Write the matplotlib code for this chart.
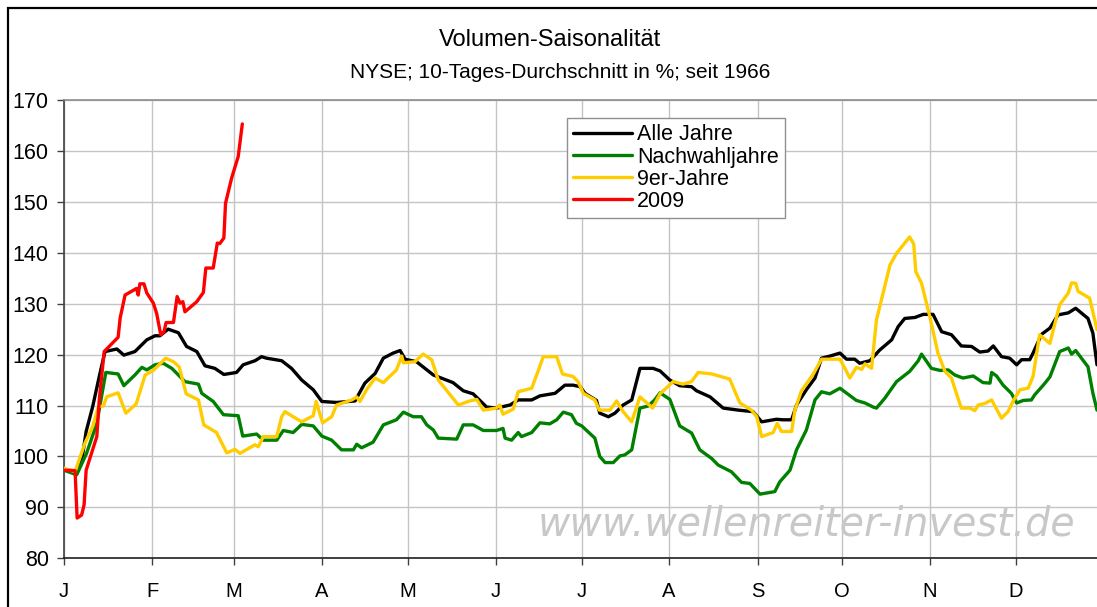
import matplotlib
matplotlib.use("Agg")
import matplotlib.pyplot as plt
from matplotlib.patches import Rectangle

plt.rcParams['font.family'] = ['Liberation Sans', 'DejaVu Sans']

# ---------------- data (x = trading day of the year) ----------------
month_labels = ["J", "F", "M", "A", "M", "J", "J", "A", "S", "O", "N", "D"]
month_pos = [0, 21.5, 41.5, 62.9, 83.9, 105.4, 126.3, 147.5, 169.3, 189.8, 211.2, 232.2]

alle_x = [0, 2.9, 4.3, 5.4, 7.0, 8.6, 10.0, 12.9, 14.6, 17.3, 20.2, 22.2, 23.4, 25.4, 27.9,
          29.9, 32.4, 34.4, 36.8, 39.0, 42.1, 43.7, 46.6, 48.2, 49.4, 53.1, 55.5, 58.0, 60.8,
          62.9, 66.5, 71.0, 73.4, 75.9, 77.9, 80.3, 82.0, 83.2, 86.0, 90.1, 94.9, 97.4, 99.8,
          103.1, 105.5, 108.8, 110.8, 114.1, 116.1, 119.8, 122.2, 124.2, 125.9, 127.1, 129.9,
          130.7, 132.8, 134.4, 136.4, 138.5, 140.5, 143.7, 145.4, 147.8, 150.2, 153.1, 154.3,
          157.6, 160.8, 164.5, 168.1, 170.2, 173.8, 175.4, 177.5, 178.7, 181.1, 183.2, 184.8,
          186.8, 189.3, 190.9, 192.9, 194.1, 196.6, 199.0, 201.9, 203.5, 205.1, 207.6, 209.6,
          212.0, 214.1, 216.5, 218.9, 221.4, 223.4, 225.4, 226.7, 228.7, 230.7, 232.4, 233.6,
          235.6, 236.4, 238.5, 240.5, 242.5, 245.0, 246.8, 249.8, 251.0, 252.0]
alle_y = [97.3, 97.2, 99.0, 104.9, 109.8, 115.7, 120.6, 121.1, 119.9, 120.6, 122.9, 123.7, 123.7,
          125.0, 124.3, 121.6, 120.6, 117.8, 117.3, 116.1, 116.5, 118.0, 118.8, 119.6, 119.3,
          118.8, 117.3, 115.0, 113.1, 110.8, 110.6, 110.9, 114.4, 116.3, 119.3, 120.3, 120.8,
          119.1, 118.6, 116.0, 114.5, 112.9, 112.3, 109.7, 109.5, 110.1, 111.1, 111.1, 111.9,
          112.4, 114.0, 114.0, 113.7, 112.4, 111.0, 108.5, 107.8, 108.5, 110.1, 111.1, 117.3,
          117.3, 116.8, 115.0, 113.9, 113.7, 112.9, 111.7, 109.5, 109.1, 108.8, 106.8, 107.3,
          107.2, 107.2, 110.1, 113.1, 115.4, 119.3, 119.7, 120.3, 119.1, 119.1, 118.3, 118.8,
          120.9, 122.9, 125.5, 127.1, 127.3, 127.9, 127.9, 124.5, 123.9, 121.7, 121.6, 120.5,
          120.7, 121.7, 119.6, 119.3, 118.0, 119.0, 119.0, 120.3, 124.0, 125.2, 127.8, 128.2,
          129.1, 127.1, 124.2, 118.0]

nach_x = [0, 3.1, 5.5, 8.0, 10.2, 13.2, 14.6, 17.3, 19.0, 20.2, 22.2, 24.2, 26.3, 29.5, 32.8,
          33.6, 36.4, 38.9, 42.5, 43.6, 47.0, 48.6, 51.9, 53.5, 55.9, 58.0, 60.8, 62.9, 65.3,
          67.7, 70.6, 71.4, 72.6, 75.4, 77.9, 81.1, 82.8, 85.2, 87.2, 88.5, 90.1, 91.3, 95.8,
          97.4, 99.8, 102.3, 105.5, 107.1, 107.6, 109.2, 110.8, 111.6, 114.1, 116.1, 118.5,
          120.2, 121.8, 123.8, 125.0, 126.3, 129.5, 130.7, 132.0, 134.0, 135.6, 136.8, 138.5,
          140.5, 142.5, 144.1, 145.4, 147.8, 150.2, 153.1, 155.1, 158.0, 159.6, 162.8, 165.3,
          167.3, 169.8, 173.4, 174.6, 177.1, 178.7, 181.1, 183.2, 184.8, 186.8, 189.3, 193.3,
          195.4, 197.4, 198.2, 200.2, 203.1, 206.3, 208.4, 209.2, 211.6, 213.7, 215.7, 217.3,
          219.3, 221.8, 224.2, 225.9, 226.3, 227.5, 229.1, 231.1, 232.4, 234.0, 236.0, 236.8,
          238.9, 240.5, 242.9, 245.0, 245.8, 246.8, 249.8, 251.0, 252.0]
nach_y = [97.3, 96.4, 100.6, 106.5, 116.5, 116.2, 113.9, 116.0, 117.5, 117.0, 118.0, 118.3, 117.3,
          114.7, 114.2, 112.4, 110.8, 108.2, 108.0, 104.0, 104.4, 103.2, 103.2, 105.1, 104.7,
          106.3, 106.0, 104.0, 103.2, 101.3, 101.3, 102.4, 101.7, 102.8, 106.2, 107.2, 108.7,
          107.8, 107.8, 106.2, 105.2, 103.6, 103.4, 106.2, 106.2, 105.1, 105.1, 105.5, 103.6,
          103.2, 104.7, 103.9, 104.7, 106.6, 106.4, 107.2, 108.7, 108.2, 106.5, 106.0, 103.6,
          100.0, 98.8, 98.8, 100.1, 100.3, 101.3, 109.5, 109.9, 111.1, 112.5, 111.2, 106.0,
          104.6, 101.3, 99.6, 98.3, 97.0, 94.9, 94.7, 92.6, 93.1, 95.0, 97.3, 101.3, 105.2,
          111.1, 112.7, 112.3, 113.4, 111.0, 110.5, 109.7, 109.5, 111.4, 114.7, 116.7, 118.8,
          120.1, 117.3, 116.9, 117.0, 116.0, 115.4, 115.8, 114.5, 114.4, 116.5, 115.8, 114.0,
          112.4, 110.5, 111.0, 111.1, 112.1, 114.0, 115.6, 120.6, 121.3, 120.1, 120.8, 117.6,
          112.4, 109.1]

neun_x = [0, 2.7, 5.1, 7.0, 8.4, 9.6, 10.4, 13.2, 15.1, 17.6, 19.8, 21.8, 24.8, 26.7, 28.1,
          29.8, 32.8, 34.1, 37.2, 39.7, 41.7, 42.9, 46.6, 47.4, 48.6, 51.9, 53.1, 53.9, 55.9,
          58.0, 60.8, 61.5, 63.1, 65.3, 66.5, 70.2, 71.4, 72.2, 73.8, 75.9, 77.9, 81.1, 82.4,
          82.8, 85.6, 87.6, 89.7, 91.3, 94.9, 96.2, 99.0, 100.7, 102.3, 105.5, 106.3, 107.1,
          109.6, 110.8, 114.1, 115.9, 116.9, 120.2, 121.6, 124.2, 125.4, 126.7, 129.5, 130.6,
          133.2, 134.8, 136.4, 138.5, 140.5, 143.6, 145.4, 148.6, 151.0, 153.1, 154.7, 158.0,
          162.4, 163.7, 164.9, 167.7, 169.0, 170.2, 173.0, 174.0, 175.0, 177.5, 178.3, 179.9,
          182.8, 184.8, 189.3, 190.5, 191.7, 193.3, 194.6, 195.4, 197.0, 198.2, 201.5, 203.1,
          206.3, 207.3, 207.8, 209.2, 211.2, 213.2, 214.9, 216.5, 217.7, 218.9, 221.0, 222.2,
          223.0, 224.6, 226.3, 228.7, 230.3, 231.5, 233.2, 235.2, 236.4, 238.0, 240.5, 242.9,
          245.0, 245.8, 246.8, 247.4, 250.2, 252.0]
neun_y = [97.7, 97.0, 102.6, 105.9, 109.8, 109.9, 111.7, 112.5, 108.5, 110.3, 116.0, 116.9, 119.3,
          118.6, 117.6, 112.3, 111.1, 106.2, 104.7, 100.7, 101.4, 100.6, 102.3, 101.9, 103.9,
          103.9, 107.8, 108.8, 107.8, 106.8, 108.0, 110.8, 106.6, 107.8, 110.1, 111.1, 111.7,
          110.8, 113.1, 115.4, 114.5, 117.0, 119.7, 118.4, 118.6, 120.1, 119.0, 115.0, 111.4,
          110.1, 110.9, 111.2, 109.1, 109.5, 110.1, 108.3, 109.3, 112.7, 113.4, 117.3, 119.6,
          119.6, 116.2, 115.7, 114.7, 112.4, 111.1, 109.1, 109.1, 110.9, 108.8, 106.8, 111.7,
          109.5, 112.3, 114.7, 114.2, 114.7, 116.5, 116.2, 115.2, 112.7, 110.5, 109.1, 107.8,
          103.9, 104.7, 106.5, 104.9, 104.9, 109.1, 112.9, 116.2, 119.1, 119.1, 117.3, 115.4,
          117.5, 117.1, 118.2, 117.3, 126.8, 137.6, 139.9, 143.1, 141.7, 136.3, 134.0, 127.5,
          120.3, 116.7, 115.4, 112.4, 109.5, 109.5, 109.0, 110.1, 110.4, 111.1, 107.5, 108.8,
          110.8, 113.1, 113.4, 115.7, 123.9, 122.2, 129.8, 132.1, 134.1, 134.0, 132.4, 131.1,
          124.9]

y2009_x = [0, 2.7, 3.2, 4.3, 4.9, 5.4, 8.0, 8.6, 9.8, 13.2, 13.7, 14.9, 17.7, 18.1, 18.5, 19.5,
           20.2, 21.8, 22.6, 23.6, 24.4, 24.9, 26.7, 27.6, 28.3, 29.0, 29.5, 32.4, 34.0, 34.6,
           36.4, 37.4, 38.0, 39.0, 39.4, 40.9, 42.5, 43.5]
y2009_y = [97.3, 97.2, 87.9, 88.5, 90.5, 97.3, 103.9, 111.1, 120.6, 123.4, 127.2, 131.7, 133.0,
           131.7, 133.9, 133.9, 132.1, 130.1, 128.1, 123.9, 124.5, 126.3, 126.3, 131.4, 130.1,
           130.4, 128.4, 130.4, 132.2, 137.0, 137.0, 141.9, 141.8, 142.9, 149.7, 154.7, 158.9,
           165.3]

series_names = ["Alle Jahre", "Nachwahljahre", "9er-Jahre", "2009"]
series_colors = ["#000000", "#008000", "#FFCC00", "#FF0000"]

# ---------------- figure ----------------
W, H = 1097, 607
fig = plt.figure(figsize=(W / 100, H / 100), dpi=100)
fig.patch.set_facecolor("white")

# outer frame (left and top edges visible)
fig.patches.append(Rectangle((8 / W, -0.1), 1.2, 1 - 8 / H + 0.1, transform=fig.transFigure,
                             fill=False, edgecolor="black", linewidth=1.6))

ax = fig.add_axes([64 / W, 1 - 558.3 / H, (W - 64) / W, (558.3 - 100) / H])
ax.set_facecolor("white")

xs = [alle_x, nach_x, neun_x, y2009_x]
ys = [alle_y, nach_y, neun_y, y2009_y]
for x, y, name, col in zip(xs, ys, series_names, series_colors):
    ax.plot(x, y, color=col, linewidth=2.4, label=name, solid_joinstyle="round",
            solid_capstyle="round", zorder=3)

ax.set_xlim(0, 252)
ax.set_ylim(80, 170)
ax.set_yticks(range(80, 171, 10))
ax.set_xticks(month_pos)
ax.set_xticklabels(month_labels)

ax.grid(True, color="#c4c4c4", linewidth=1.0, zorder=0)
ax.set_axisbelow(True)

ax.spines["right"].set_visible(False)
ax.spines["top"].set_color("#8c8c8c")
ax.spines["top"].set_linewidth(1.2)
ax.spines["left"].set_color("#404040")
ax.spines["left"].set_linewidth(1.2)
ax.spines["bottom"].set_color("#202020")
ax.spines["bottom"].set_linewidth(1.2)

ax.tick_params(axis="y", direction="out", length=5, width=1.0, color="#404040",
               labelsize=15.5, pad=6)
ax.tick_params(axis="x", direction="out", length=5, width=1.0, color="#404040",
               labelsize=14.5, pad=12)

# titles
fig.text(550 / W, 1 - 40 / H, "Volumen-Saisonalität", ha="center", va="center", fontsize=17)
fig.text(560 / W, 1 - 72 / H, "NYSE; 10-Tages-Durchschnitt in %; seit 1966", ha="center",
         va="center", fontsize=15)

# watermark
fig.text(1075 / W, 1 - 524 / H, "www.wellenreiter-invest.de", ha="right", va="center",
         fontsize=28.5, style="italic", color="#c8c8c8", family="DejaVu Sans", zorder=1)

leg = ax.legend(loc="upper left", bbox_to_anchor=(567 / W, 1 - 118 / H),
                bbox_transform=fig.transFigure, fontsize=15.5, frameon=True, fancybox=False,
                edgecolor="#909090", framealpha=1, borderpad=0.3, handlelength=2.7,
                handletextpad=0.25, labelspacing=0.05, borderaxespad=0)
leg.get_frame().set_linewidth(1.0)

fig.savefig("out.png", dpi=100, facecolor="white")
